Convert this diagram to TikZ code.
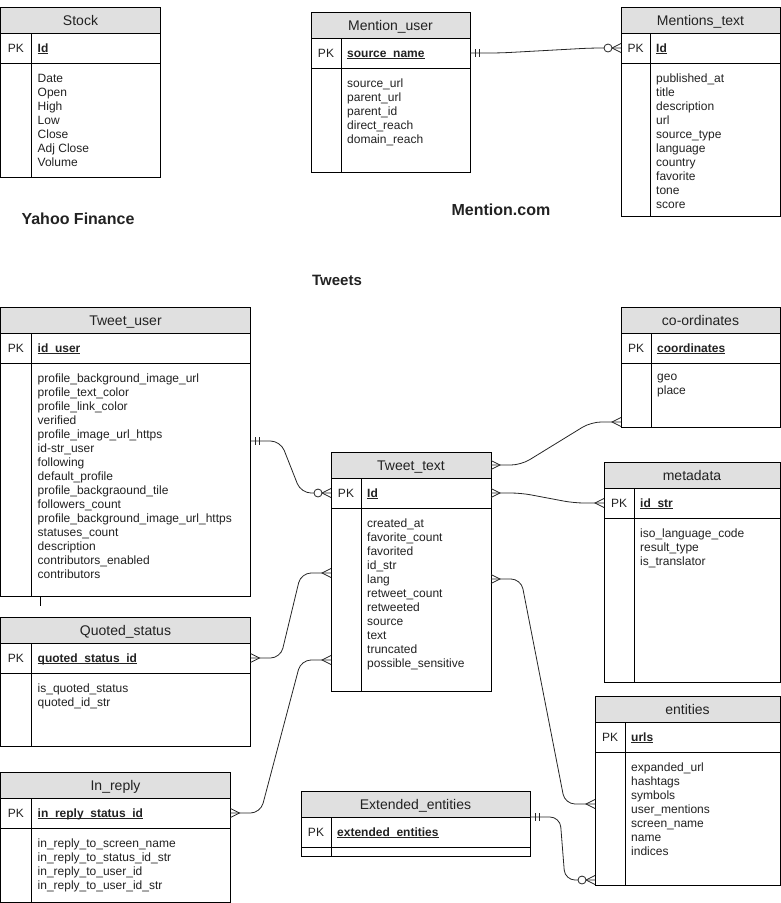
\documentclass[tikz,border=0pt]{standalone}
\usepackage{fontspec}
\setmainfont{Liberation Sans}
\usetikzlibrary{calc}

\definecolor{headgray}{RGB}{224,224,224}
\definecolor{ink}{RGB}{34,34,34}

% bold key name with a close underline
\newcommand\keyul[1]{\setbox0\hbox{\bfseries #1}\rlap{\rule[-1.9pt]{\wd0}{0.75pt}}\box0}

\tikzset{
  cell/.style={draw=black, line width=1pt, inner sep=0pt, outer sep=0pt},
  hdr/.style={cell, fill=headgray, minimum height=26pt},
  pkrow/.style={cell, fill=white, minimum height=30pt},
  bodyrow/.style={cell, fill=white},
  title/.style={font=\fontsize{14}{16}\selectfont, text=ink, inner sep=0pt, anchor=base},
  pklabel/.style={font=\fontsize{12}{14}\selectfont, text=ink, inner sep=0pt, anchor=base},
  keytext/.style={font=\fontsize{12}{14}\selectfont, text=ink, inner sep=0pt, anchor=base west},
  fields/.style={font=\fontsize{12}{14}\selectfont, text=ink, inner sep=0pt, align=left,
    anchor=north west, execute at begin node=\strut},
  group/.style={font=\fontsize{16}{18}\selectfont\bfseries, text=ink, inner sep=0pt},
  er/.style={draw=black!85, line width=0.8pt, rounded corners=10pt},
  mk/.style={draw=black!85, line width=0.8pt},
  one/.pic={\draw[mk] (5,-4) -- (5,4) (9,-4) -- (9,4);},
  many/.pic={\draw[mk] (0,-4.5) -- (9,0) -- (0,4.5);},
  zmany/.pic={\draw[mk] (0,-4.5) -- (9,0) -- (0,4.5);
              \draw[mk, fill=white] (13,0) circle (4);},
}

% #1 name, #2 x, #3 top, #4 width, #5 height, #6 key column width,
% #7 title, #8 key field, #9 other fields
\newcommand\ertable[9]{%
  \node[hdr, minimum width=#4pt, anchor=north west] (#1-h) at (#2,#3) {};
  \node[pkrow, minimum width=#4pt, anchor=north west] (#1-k) at (#1-h.south west) {};
  \node[bodyrow, minimum width=#4pt, minimum height={(#5-56)*1pt}, anchor=north west]
    (#1-b) at (#1-k.south west) {};
  \draw[line width=1pt] ($(#1-k.north west)+(#6,0)$) -- ($(#1-b.south west)+(#6,0)$);
  \node[title] (#1-t) at ($(#1-h.center)+(0,5)$) {#7};
  \node[pklabel] (#1-p) at ($(#1-k.west)+(#6/2,4.3)$) {PK};
  \node[keytext] (#1-n) at ($(#1-k.west)+(#6+6,4.3)$) {\keyul{#8}};
  \node[fields] (#1-f) at ($(#1-b.north west)+(#6+6,11)$) {#9};
}

\begin{document}
\begin{tikzpicture}[x=1pt, y=-1pt]
\useasboundingbox (0,0) rectangle (781,903);

% Yahoo Finance
\ertable{st}{0.5}{7}{160}{170}{31}{Stock}{Id}
  {Date\\Open\\High\\Low\\Close\\Adj Close\\Volume}

% Mention.com
\ertable{mu}{311}{12}{159}{160}{30}{Mention\_user}{source\_name}
  {source\_url\\parent\_url\\parent\_id\\direct\_reach\\domain\_reach}
\ertable{mt}{621}{7}{159}{209}{29}{Mentions\_text}{Id}
  {published\_at\\title\\description\\url\\source\_type\\language\\country\\favorite\\tone\\score}

% Tweets
\ertable{tu}{0.5}{307}{250}{289}{31}{Tweet\_user}{id\_user}
  {profile\_background\_image\_url\\profile\_text\_color\\profile\_link\_color\\verified\\%
   profile\_image\_url\_https\\id-str\_user\\following\\default\_profile\\%
   profile\_backgraound\_tile\\followers\_count\\profile\_background\_image\_url\_https\\%
   statuses\_count\\description\\contributors\_enabled\\contributors}
\ertable{co}{621}{307}{159}{120}{30}{co-ordinates}{coordinates}
  {geo\\place}
\ertable{tt}{331}{452}{160}{239}{30}{Tweet\_text}{Id}
  {created\_at\\favorite\_count\\favorited\\id\_str\\lang\\retweet\_count\\retweeted\\%
   source\\text\\truncated\\possible\_sensitive}
\ertable{md}{604}{462}{176}{220}{30}{metadata}{id\_str}
  {iso\_language\_code\\result\_type\\is\_translator}
\ertable{qs}{0.5}{617}{250}{129}{31}{Quoted\_status}{quoted\_status\_id}
  {is\_quoted\_status\\quoted\_id\_str}
\ertable{en}{595}{696}{185}{189}{30}{entities}{urls}
  {expanded\_url\\hashtags\\symbols\\user\_mentions\\screen\_name\\name\\indices}
\ertable{ir}{0.5}{772}{230}{130}{31}{In\_reply}{in\_reply\_status\_id}
  {in\_reply\_to\_screen\_name\\in\_reply\_to\_status\_id\_str\\in\_reply\_to\_user\_id\\%
   in\_reply\_to\_user\_id\_str}
\ertable{ee}{301}{791}{229}{65}{30}{Extended\_entities}{extended\_entities}{}

% short stub under Tweet_user
\draw[line width=1pt] ($(tu-b.south west)+(40,0)$) -- ++(0,10);

% group captions
\node[group] (yahoo) at (78,219) {Yahoo Finance};
\node[group] (mention) at (501,210) {Mention.com};
\node[group, font=\fontsize{15}{17}\selectfont\bfseries] (tweets) at (337,280) {Tweets};

% connection points on the table sides
\coordinate (tuA) at ($(tu-b.north east)+(0,78)$);
\coordinate (coA) at ($(co-b.south west)+(0,-5)$);
\coordinate (ttR3) at ($(tt-b.north east)+(0,71)$);
\coordinate (enA) at ($(en-b.north west)+(0,52)$);
\coordinate (ttL1) at ($(tt-b.north west)+(0,65)$);
\coordinate (ttL2) at ($(tt-b.north west)+(0,152)$);
\coordinate (eeA) at (ee-k.north east);
\coordinate (enB) at ($(en-b.south west)+(0,-5)$);

% Mention_user -- Mentions_text
\draw[er] (mu-k.east) -- ++(30,0) -- ($(mt-k.west)+(-30,0)$) -- (mt-k.west);
\pic at (mu-k.east) {one};
\pic[xscale=-1] at (mt-k.west) {zmany};

% Tweet_user -- Tweet_text
\draw[er] (tuA) -- ++(30,0) -- ($(tt-k.west)+(-30,0)$) -- (tt-k.west);
\pic at (tuA) {one};
\pic[xscale=-1] at (tt-k.west) {zmany};

% Tweet_text -- co-ordinates
\draw[er] (tt-h.east) -- ++(30,0) -- ($(coA)+(-30,0)$) -- (coA);
\pic at (tt-h.east) {many};
\pic[xscale=-1] at (coA) {many};

% Tweet_text -- metadata
\draw[er] (tt-k.east) -- ++(30,0) -- ($(md-k.west)+(-30,0)$) -- (md-k.west);
\pic at (tt-k.east) {many};
\pic[xscale=-1] at (md-k.west) {many};

% Tweet_text -- entities
\draw[er] (ttR3) -- ++(30,0) -- ($(enA)+(-30,0)$) -- (enA);
\pic at (ttR3) {many};
\pic[xscale=-1] at (enA) {many};

% Quoted_status -- Tweet_text
\draw[er] (qs-k.east) -- ++(30,0) -- ($(ttL1)+(-30,0)$) -- (ttL1);
\pic at (qs-k.east) {many};
\pic[xscale=-1] at (ttL1) {many};

% In_reply -- Tweet_text
\draw[er] (ir-k.east) -- ++(30,0) -- ($(ttL2)+(-30,0)$) -- (ttL2);
\pic at (ir-k.east) {many};
\pic[xscale=-1] at (ttL2) {many};

% Extended_entities -- entities
\draw[er] (eeA) -- ++(30,0) -- ($(enB)+(-30,0)$) -- (enB);
\pic at (eeA) {one};
\pic[xscale=-1] at (enB) {zmany};

\end{tikzpicture}
\end{document}
